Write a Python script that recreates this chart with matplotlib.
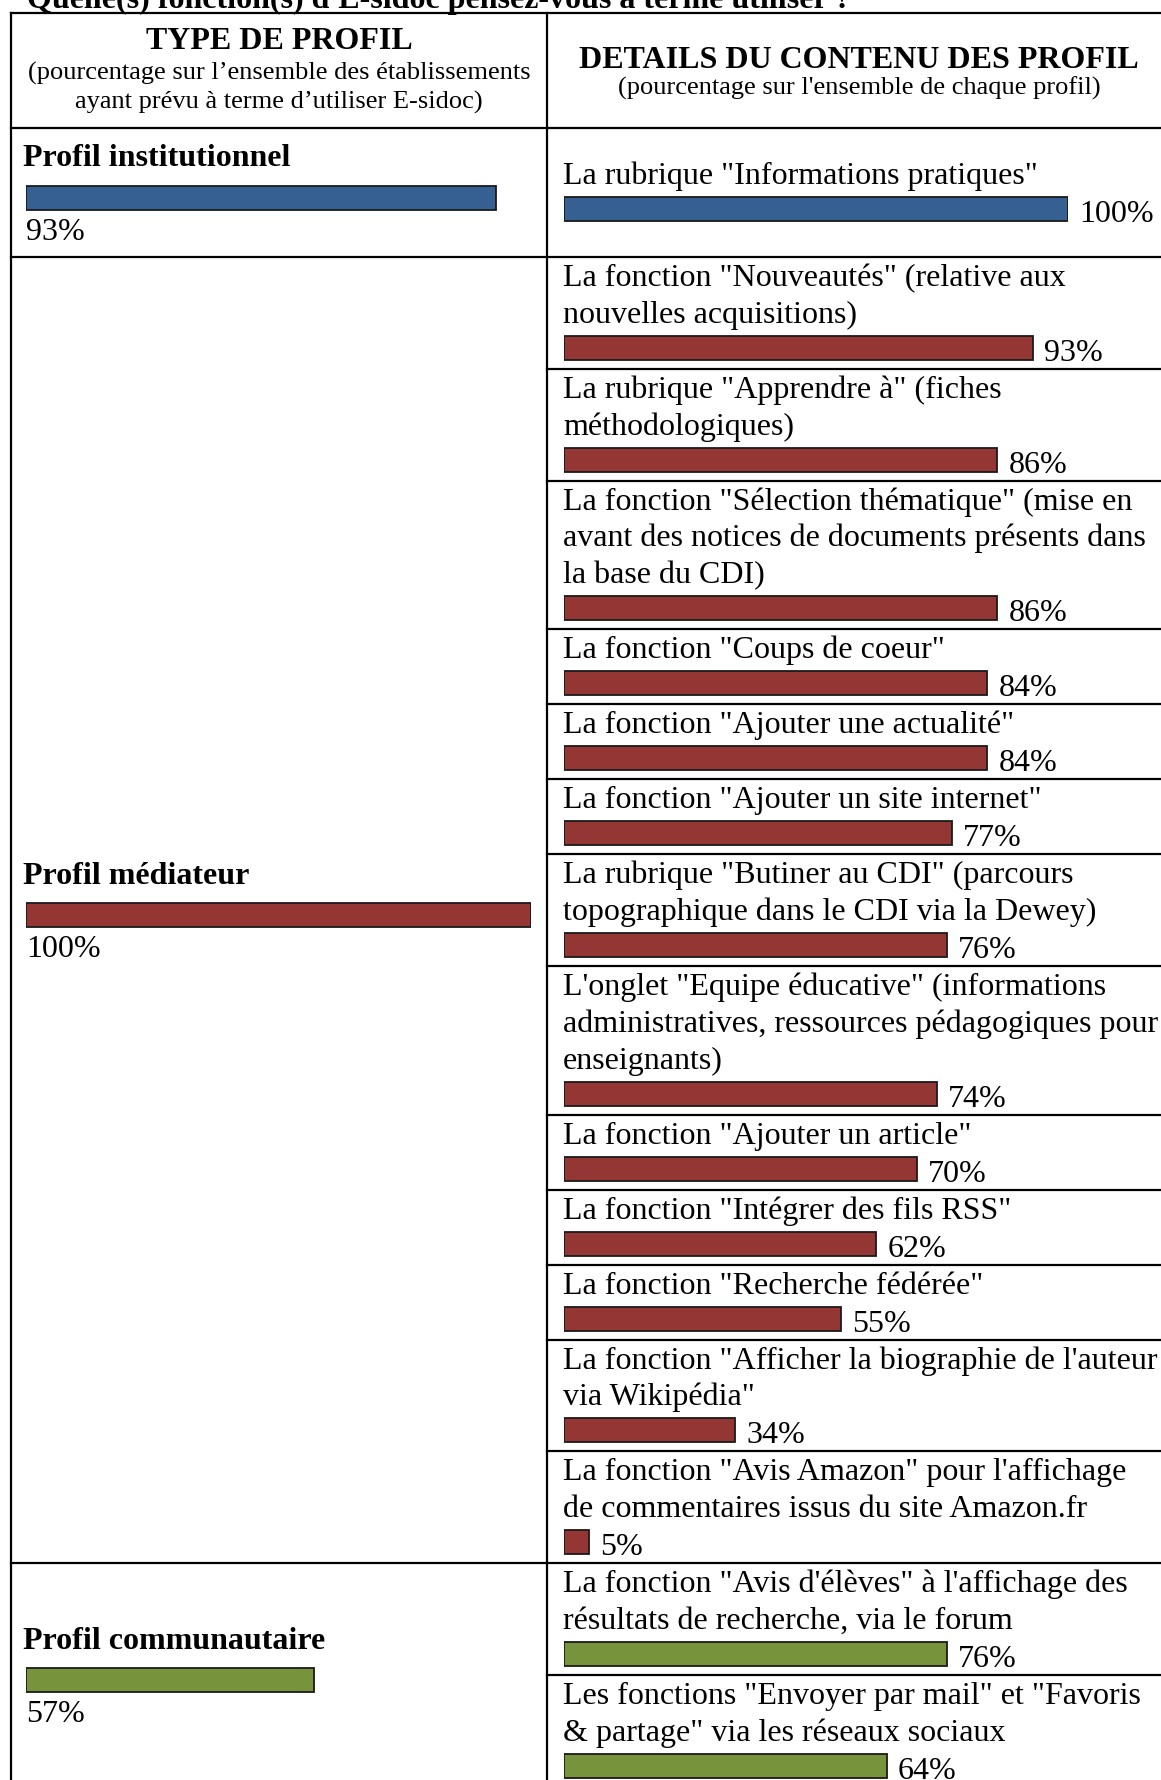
import matplotlib
matplotlib.use("Agg")
import matplotlib.pyplot as plt

plt.rcParams['font.family'] = ['Liberation Serif', 'DejaVu Serif']

# ---- data ----
title = "Quelle(s) fonction(s) d'E-sidoc pensez-vous à terme utiliser ?"
header_left = "TYPE DE PROFIL"
header_left_sub = ["(pourcentage sur l\u2019ensemble des établissements",
                   "ayant prévu à terme d\u2019utiliser E-sidoc)"]
header_right = "DETAILS DU CONTENU DES PROFIL"
header_right_sub = "(pourcentage sur l'ensemble de chaque profil)"

profiles = ["Profil institutionnel", "Profil médiateur", "Profil communautaire"]
profile_pct = [93, 100, 57]
profile_colors = ["#376092", "#943634", "#77933c"]

inst_items = ['La rubrique "Informations pratiques"']
inst_values = [100]

med_items = [
    'La fonction "Nouveautés" (relative aux\nnouvelles acquisitions)',
    'La rubrique "Apprendre à" (fiches\nméthodologiques)',
    'La fonction "Sélection thématique" (mise en\navant des notices de documents présents dans\nla base du CDI)',
    'La fonction "Coups de coeur"',
    'La fonction "Ajouter une actualité"',
    'La fonction "Ajouter un site internet"',
    'La rubrique "Butiner au CDI" (parcours\ntopographique dans le CDI via la Dewey)',
    'L\'onglet "Equipe éducative" (informations\nadministratives, ressources pédagogiques pour\nenseignants)',
    'La fonction "Ajouter un article"',
    'La fonction "Intégrer des fils RSS"',
    'La fonction "Recherche fédérée"',
    'La fonction "Afficher la biographie de l\'auteur\nvia Wikipédia"',
    'La fonction "Avis Amazon" pour l\'affichage\nde commentaires issus du site Amazon.fr',
]
med_values = [93, 86, 86, 84, 84, 77, 76, 74, 70, 62, 55, 34, 5]

comm_items = [
    'La fonction "Avis d\'élèves" à l\'affichage des\nrésultats de recherche, via le forum',
    'Les fonctions "Envoyer par mail" et "Favoris\n& partage" via les réseaux sociaux',
]
comm_values = [76, 64]

sections = [(inst_items, inst_values), (med_items, med_values), (comm_items, comm_values)]

W, H = 1161, 1780
fig = plt.figure(figsize=(W / 100, H / 100), dpi=100)
ax = fig.add_axes([0, 0, 1, 1])
ax.set_xlim(0, W)
ax.set_ylim(H, 0)
ax.axis('off')

# bar axes: x in percent, y in pixels
axL = fig.add_axes([26 / W, 0, 505 / W, 1])
axR = fig.add_axes([564 / W, 0, 504 / W, 1])
for a in (axL, axR):
    a.set_xlim(0, 100)
    a.set_ylim(H, 0)
    a.axis('off')
    a.patch.set_alpha(0)

FS = 23
FS_SUB = 19
LW = 1.6
x_left, x_div, x_right = 11, 547, W
line_h = 36.8
bar_h = 24

# title (cut at the top of the page)
ax.text(27, 8, title, fontsize=FS, fontweight='bold', va='baseline')

# header
top = 13
hdr_bottom = 128
ax.text(279, 49, header_left, fontsize=FS, fontweight='bold', ha='center', va='baseline')
for j, ln in enumerate(header_left_sub):
    ax.text(279, 80 + 29 * j, ln, fontsize=FS_SUB, ha='center', va='baseline')
ax.text(859, 68, header_right, fontsize=FS, fontweight='bold', ha='center', va='baseline')
ax.text(859, 95, header_right_sub, fontsize=FS_SUB, ha='center', va='baseline')

ax.plot([x_left, x_right], [top, top], color='black', lw=LW)
ax.plot([x_left, x_right], [hdr_bottom, hdr_bottom], color='black', lw=LW)

section_pad = [27, 0, 0]
y = hdr_bottom
for k, (items, values) in enumerate(sections):
    sec_top = y
    y += section_pad[k]
    for i, (txt, v) in enumerate(zip(items, values)):
        lines = txt.split('\n')
        base = y + 29
        for j, ln in enumerate(lines):
            ax.text(563, base + j * line_h, ln, fontsize=FS, va='baseline')
        bar_top = base + (len(lines) - 1) * line_h + 13
        axR.barh(bar_top + bar_h / 2, v, height=bar_h, color=profile_colors[k],
                 edgecolor='#1a1a1a', linewidth=1.3)
        axR.annotate(f"{v}%", xy=(v, bar_top + bar_h + 1), xytext=(8, 0),
                     textcoords='offset points', fontsize=FS, va='baseline',
                     annotation_clip=False)
        y = bar_top + bar_h + 9
        if i < len(items) - 1:
            ax.plot([x_div, x_right], [y, y], color='black', lw=LW)
    y += section_pad[k]
    sec_bottom = y
    ax.plot([x_left, x_right], [sec_bottom, sec_bottom], color='black', lw=LW)

    # left column: profile label + bar
    bc = (sec_top + sec_bottom) / 2 + 5
    ax.text(23, bc - 31, profiles[k], fontsize=FS, fontweight='bold', va='baseline')
    axL.barh(bc, profile_pct[k], height=bar_h, color=profile_colors[k],
             edgecolor='#1a1a1a', linewidth=1.3)
    axL.text(0, bc + 42, f"{profile_pct[k]}%", fontsize=FS, va='baseline')

# vertical lines
ax.plot([x_left, x_left], [top, H + 10], color='black', lw=LW)
ax.plot([x_div, x_div], [top, H + 10], color='black', lw=LW)

fig.savefig('out.png', dpi=100)
